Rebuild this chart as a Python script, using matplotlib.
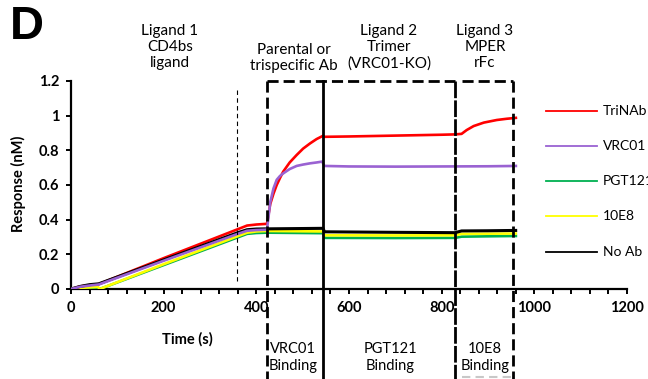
import matplotlib
matplotlib.use("Agg")
import matplotlib.pyplot as plt
from matplotlib.lines import Line2D

plt.rcParams['font.family'] = ['Lato', 'DejaVu Sans']

# ---------------- data ----------------
t_red = [0, 20, 40, 60, 200, 360, 380, 400, 423,
         430, 437, 444, 451, 458, 472, 487, 501, 516, 530, 544,
         547, 600, 700, 800, 829,
         843, 854, 869, 891, 919, 940, 963]
y_red = [0, 0.015, 0.022, 0.028, 0.178, 0.345, 0.366, 0.372, 0.376,
         0.49, 0.55, 0.60, 0.64, 0.677, 0.73, 0.773, 0.81, 0.84, 0.865, 0.884,
         0.878, 0.88, 0.885, 0.89, 0.892,
         0.895, 0.917, 0.94, 0.96, 0.975, 0.982, 0.988]

t_vrc01 = [0, 20, 40, 60, 200, 360, 380, 400, 423,
           430, 437, 444, 451, 458, 472, 487, 501, 516, 530, 542,
           547, 600, 700, 800, 900, 963]
y_vrc01 = [0, 0.013, 0.02, 0.026, 0.163, 0.318, 0.336, 0.34, 0.342,
           0.50, 0.58, 0.63, 0.652, 0.667, 0.692, 0.71, 0.718, 0.725, 0.73, 0.735,
           0.71, 0.707, 0.706, 0.707, 0.708, 0.71]

t_pgt121 = [0, 30, 62, 200, 360, 380, 400, 423, 544, 547, 700, 829, 843, 900, 963]
y_pgt121 = [0, 0.006, 0.0, 0.138, 0.298, 0.318, 0.323, 0.325, 0.322,
            0.295, 0.294, 0.295, 0.302, 0.304, 0.306]

t_10e8 = [0, 30, 58, 62, 200, 360, 380, 400, 423, 544, 547, 700, 829, 843, 900, 963]
y_10e8 = [0, 0.008, 0.012, 0.0, 0.143, 0.305, 0.325, 0.332, 0.335, 0.332,
          0.31, 0.309, 0.31, 0.318, 0.319, 0.32]

t_noab = [0, 20, 40, 60, 200, 360, 380, 400, 423, 544, 547, 700, 829, 843, 900, 963]
y_noab = [0, 0.015, 0.025, 0.03, 0.168, 0.325, 0.342, 0.346, 0.347, 0.35,
          0.33, 0.327, 0.325, 0.335, 0.336, 0.338]

series_names = ['TriNAb', 'VRC01', 'PGT121', '10E8', 'No Ab']
series_colors = ['#ff0000', '#9a62d2', '#00b050', '#ffff00', '#000000']

x_ticks = [0, 200, 400, 600, 800, 1000, 1200]
y_ticks = [0, 0.2, 0.4, 0.6, 0.8, 1.0, 1.2]
y_ticklabels = ['0', '0.2', '0.4', '0.6', '0.8', '1', '1.2']

# phase boundaries (s)
t_ligand1_end = 358
t_ab_start = 423
t_ab_end = 544
t_l3_start = 829
t_l3_end = 955

# ---------------- figure ----------------
fig = plt.figure(figsize=(6.48, 3.79), dpi=100)
ax = fig.add_axes([71/648, 1-289/379, 556/648, 208/379])

series = [(t_red, y_red), (t_vrc01, y_vrc01), (t_pgt121, y_pgt121),
          (t_10e8, y_10e8), (t_noab, y_noab)]
lws = [1.9, 1.9, 1.9, 1.9, 2.2]
for (tt, yy), c, lw, z in zip(series, series_colors, lws, [3, 4, 3.5, 3.6, 3.8]):
    ax.plot(tt, yy, color=c, lw=lw, zorder=z, solid_capstyle='butt')

ax.set_xlim(0, 1200)
ax.set_ylim(0, 1.2)
ax.set_xticks(x_ticks)
ax.set_xticks(range(0, 1201, 40), minor=True)
ax.set_yticks(y_ticks)
ax.set_yticklabels(y_ticklabels)
for s in ['top', 'right']:
    ax.spines[s].set_visible(False)
for s in ['left', 'bottom']:
    ax.spines[s].set_linewidth(1.6)
ax.tick_params(axis='both', which='both', direction='out', length=3.5, width=1.4,
               labelsize=10.5, pad=5)
ax.tick_params(axis='y', which='minor', length=0)
for lab in ax.get_xticklabels() + ax.get_yticklabels():
    lab.set_fontweight('bold')

# ---------------- phase boxes ----------------
ybot = -0.53
dash = (0, (4, 1.8))
ax.plot([t_ab_start, t_ab_start], [1.2, ybot], color='k', lw=2.0, ls=dash,
        clip_on=False, zorder=6)
ax.plot([t_ab_end, t_ab_end], [1.2, ybot], color='k', lw=2.0, ls='-',
        clip_on=False, zorder=6)
ax.plot([t_l3_start, t_l3_start], [1.2, ybot], color='k', lw=2.0, ls=(0, (6, 0.8)),
        clip_on=False, zorder=6)
ax.plot([t_l3_end, t_l3_end], [1.2, ybot], color='k', lw=2.0, ls=dash,
        clip_on=False, zorder=6)
ax.plot([t_ab_start, t_l3_start], [1.2, 1.2], color='k', lw=2.0, ls=dash,
        clip_on=False, zorder=6)
ax.plot([t_l3_start + 15, t_l3_end], [1.2, 1.2], color='k', lw=2.0, ls=dash,
        clip_on=False, zorder=6)
ax.plot([t_l3_start + 15, t_l3_end], [-0.508, -0.508], color='#c8c8c8', lw=1.5,
        ls=(0, (4, 2.5)), clip_on=False, zorder=6)
ax.plot([t_ligand1_end, t_ligand1_end], [1.148, 0.046], color='k', lw=0.8,
        ls=(0, (4, 3)), zorder=6)

# ---------------- texts ----------------
fig.text(10/648, 1-27/379, 'D', fontsize=34, fontweight='bold',
         family=['Liberation Sans', 'DejaVu Sans'], ha='left', va='center')
hdr = dict(fontsize=11, ha='center', va='center', linespacing=1.2)
fig.text(170/648, 1-47/379, 'Ligand 1\nCD4bs\nligand', **hdr)
fig.text(294/648, 1-58/379, 'Parental or\ntrispecific Ab', **hdr)
fig.text(389/648, 1-47/379, 'Ligand 2\nTrimer\n(VRC01-KO)', **hdr)
fig.text(485/648, 1-47/379, 'Ligand 3\nMPER\nrFc', **hdr)

fig.text(187/648, 1-339/379, 'Time (s)', fontsize=10.5, fontweight='bold',
         ha='center', va='center')
fig.text(18/648, 1-184/379, 'Response (nM)', fontsize=10.5, fontweight='bold',
         ha='center', va='center', rotation=90)

bot = dict(fontsize=10.5, ha='center', va='center', linespacing=1.25)
fig.text(293/648, 1-357.5/379, 'VRC01\nBinding', **bot)
fig.text(390/648, 1-357.5/379, 'PGT121\nBinding', **bot)
fig.text(485/648, 1-357.5/379, '10E8\nBinding', **bot)

# ---------------- legend ----------------
leg_y = [111, 146, 181, 216, 252]
for name, c, yy in zip(series_names, series_colors, leg_y):
    fig.add_artist(Line2D([546/648, 597/648], [1-yy/379, 1-yy/379],
                          color=c, lw=1.3, transform=fig.transFigure))
    fig.text(603/648, 1-yy/379, name, fontsize=10, ha='left', va='center')

fig.savefig('out.png', dpi=100)
